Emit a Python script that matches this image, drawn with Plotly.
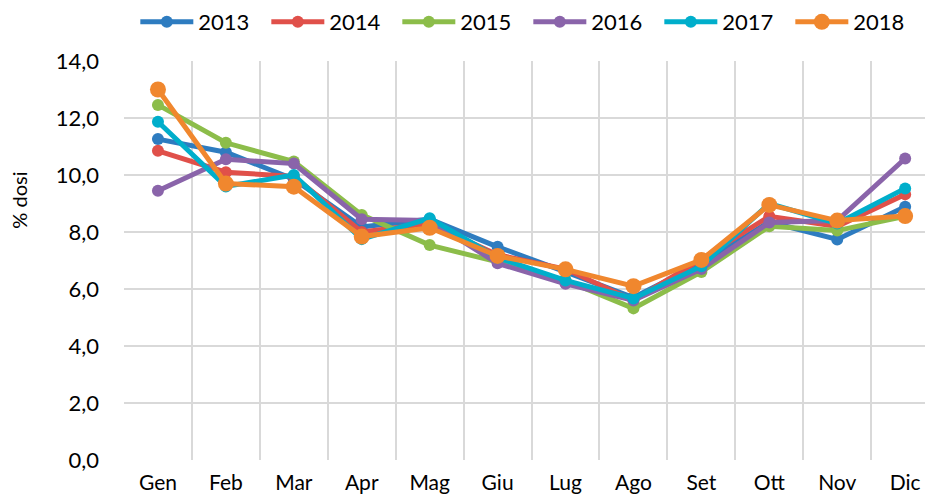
import plotly.graph_objects as go

months = ["Gen", "Feb", "Mar", "Apr", "Mag", "Giu", "Lug", "Ago", "Set", "Ott", "Nov", "Dic"]

y2013 = [11.26, 10.80, 9.85, 8.18, 8.45, 7.48, 6.60, 5.70, 6.90, 8.35, 7.74, 8.89]
y2014 = [10.85, 10.10, 9.95, 8.00, 8.30, 7.20, 6.70, 5.60, 7.05, 8.55, 8.20, 9.32]
y2015 = [12.46, 11.13, 10.47, 8.60, 7.54, 6.95, 6.30, 5.32, 6.60, 8.20, 8.05, 8.55]
y2016 = [9.45, 10.55, 10.40, 8.45, 8.40, 6.90, 6.18, 5.60, 6.70, 8.33, 8.40, 10.58]
y2017 = [11.87, 9.60, 10.00, 7.75, 8.48, 7.10, 6.30, 5.67, 6.80, 9.00, 8.30, 9.53]
y2018 = [13.00, 9.70, 9.59, 7.84, 8.15, 7.16, 6.69, 6.10, 7.02, 8.95, 8.40, 8.56]

series = [
    ("2013", y2013, "#2E7CC0", 12),
    ("2014", y2014, "#E0504A", 12),
    ("2015", y2015, "#8CBD4A", 12),
    ("2016", y2016, "#8A64AA", 12),
    ("2017", y2017, "#00AECB", 12),
    ("2018", y2018, "#F0872E", 16),
]

fig = go.Figure()
for name, vals, color, msize in series:
    fig.add_trace(go.Scatter(
        x=months, y=vals, name=name, mode="lines+markers",
        line=dict(color=color, width=5),
        marker=dict(color=color, size=msize),
    ))

font_family = "Lato, 'Liberation Sans', sans-serif"
# page body has an 8px default margin; compensate so the plot area lands at the reference position
fig.update_layout(
    width=925, height=495,
    margin=dict(l=116, r=0, t=53, b=43, autoexpand=False),
    paper_bgcolor="white", plot_bgcolor="white",
    separators=",.",
    font=dict(family=font_family, size=20, color="#000000"),
    showlegend=True,
    legend=dict(
        orientation="h", x=0.014, xanchor="left", y=1.0977, yanchor="middle",
        font=dict(size=22, color="#000000"), entrywidth=63, entrywidthmode="pixels",
        itemwidth=53, bgcolor="rgba(0,0,0,0)",
    ),
    xaxis=dict(
        type="category", range=[-0.5, 11.41], tickson="boundaries",
        showgrid=True, gridcolor="#D9D9D9", gridwidth=2,
        ticks="", showline=False, zeroline=False, automargin=False,
        tickfont=dict(size=21), ticklabelstandoff=8,
    ),
    yaxis=dict(
        range=[0, 14], dtick=2, tickformat=".1f",
        showgrid=True, gridcolor="#D9D9D9", gridwidth=2,
        zeroline=False, showline=False, ticks="", automargin=False,
        tickfont=dict(size=22), ticklabelstandoff=24,
    ),
    annotations=[dict(
        text="% dosi", textangle=-90, showarrow=False,
        xref="paper", yref="paper", x=-0.13, y=0.652,
        xanchor="center", yanchor="middle",
        font=dict(size=20, color="#000000"),
    )],
)

fig.write_html("out.html")
